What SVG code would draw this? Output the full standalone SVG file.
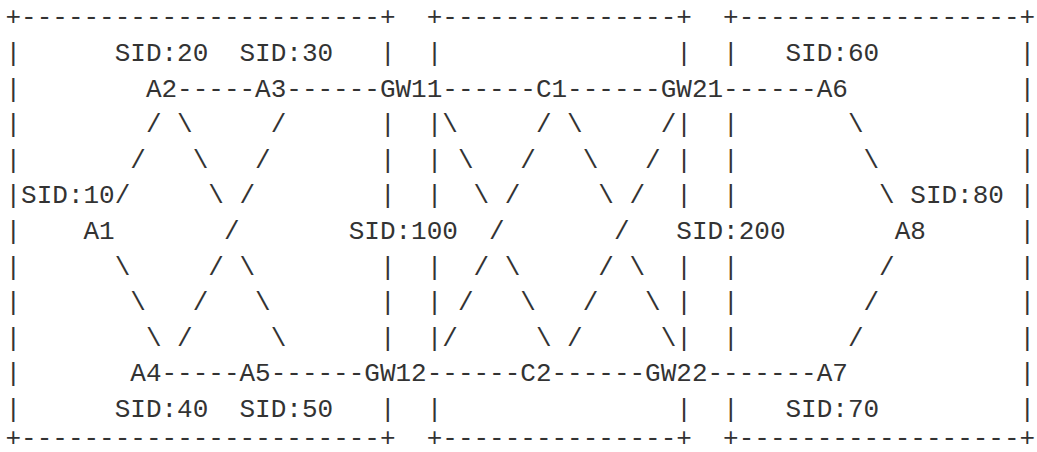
<svg xmlns="http://www.w3.org/2000/svg" width="1037" height="452" viewBox="0 0 1037 452">
<style>
text{font-family:"Liberation Mono","DejaVu Sans Mono",monospace;font-size:26px;fill:#333333;white-space:pre}
</style>
<rect width="1037" height="452" fill="#ffffff"/>
<g id="domains">
<g id="domain-1">
<text x="5.5" y="25.4">+-----------------------+</text>
<text x="5.5" y="446">+-----------------------+</text>
<text x="5.5 5.5 5.5 5.5 5.5 5.5 5.5 5.5 5.5 5.5 5.5" y="61 96.6 132.2 167.8 203.4 239 274.6 310.2 345.8 381.4 417">|||||||||||</text>
<text x="379.9 379.9 379.9 379.9 379.9 379.9 379.9 379.9" y="61 132.2 167.8 203.4 274.6 310.2 345.8 417">||||||||</text>
</g>
<g id="domain-2">
<text x="426.7" y="25.4">+---------------+</text>
<text x="426.7" y="446">+---------------+</text>
<text x="426.7 426.7 426.7 426.7 426.7 426.7 426.7 426.7" y="61 132.2 167.8 203.4 274.6 310.2 345.8 417">||||||||</text>
<text x="676.3 676.3 676.3 676.3 676.3 676.3 676.3 676.3" y="61 132.2 167.8 203.4 274.6 310.2 345.8 417">||||||||</text>
</g>
<g id="domain-3">
<text x="723.1" y="25.4">+------------------+</text>
<text x="723.1" y="446">+------------------+</text>
<text x="723.1 723.1 723.1 723.1 723.1 723.1 723.1 723.1" y="61 132.2 167.8 203.4 274.6 310.2 345.8 417">||||||||</text>
<text x="1019.5 1019.5 1019.5 1019.5 1019.5 1019.5 1019.5 1019.5 1019.5 1019.5 1019.5" y="61 96.6 132.2 167.8 203.4 239 274.6 310.2 345.8 381.4 417">|||||||||||</text>
</g>
</g>
<g id="connectors">
<text x="177.1" y="96.6">-----</text>
<text x="286.3" y="96.6">------</text>
<text x="442.3" y="96.6">------</text>
<text x="567.1" y="96.6">------</text>
<text x="723.1" y="96.6">------</text>
<text x="161.5" y="381.4">-----</text>
<text x="270.7" y="381.4">------</text>
<text x="426.7" y="381.4">------</text>
<text x="551.5" y="381.4">------</text>
<text x="707.5" y="381.4">-------</text>
<text x="145.9 130.3 114.7" y="132.2 167.8 203.4">///</text>
<text x="114.7 130.3 145.9" y="274.6 310.2 345.8">\\\</text>
<text x="177.1 192.7 208.3 239.5 255.1 270.7" y="132.2 167.8 203.4 274.6 310.2 345.8">\\\\\\</text>
<text x="270.7 255.1 239.5 223.9 208.3 192.7 177.1" y="132.2 167.8 203.4 239 274.6 310.2 345.8">///////</text>
<text x="442.3 457.9 473.5 504.7 520.3 535.9" y="132.2 167.8 203.4 274.6 310.2 345.8">\\\\\\</text>
<text x="535.9 520.3 504.7 489.1 473.5 457.9 442.3" y="132.2 167.8 203.4 239 274.6 310.2 345.8">///////</text>
<text x="567.1 582.7 598.3 629.5 645.1 660.7" y="132.2 167.8 203.4 274.6 310.2 345.8">\\\\\\</text>
<text x="660.7 645.1 629.5 613.9 598.3 582.7 567.1" y="132.2 167.8 203.4 239 274.6 310.2 345.8">///////</text>
<text x="847.9 863.5 879.1" y="132.2 167.8 203.4">\\\</text>
<text x="879.1 863.5 847.9" y="274.6 310.2 345.8">///</text>
</g>
<g id="A1"><text x="83.5" y="239">A1</text><text x="21.1" y="203.4">SID:10</text></g>
<g id="A2"><text x="145.9" y="96.6">A2</text><text x="114.7" y="61">SID:20</text></g>
<g id="A3"><text x="255.1" y="96.6">A3</text><text x="239.5" y="61">SID:30</text></g>
<g id="A4"><text x="130.3" y="381.4">A4</text><text x="114.7" y="417">SID:40</text></g>
<g id="A5"><text x="239.5" y="381.4">A5</text><text x="239.5" y="417">SID:50</text></g>
<g id="GW11"><text x="379.9" y="96.6">GW11</text></g>
<g id="GW12"><text x="364.3" y="381.4">GW12</text></g>
<g id="SID100"><text x="348.7" y="239">SID:100</text></g>
<g id="C1"><text x="535.9" y="96.6">C1</text></g>
<g id="C2"><text x="520.3" y="381.4">C2</text></g>
<g id="GW21"><text x="660.7" y="96.6">GW21</text></g>
<g id="GW22"><text x="645.1" y="381.4">GW22</text></g>
<g id="SID200"><text x="676.3" y="239">SID:200</text></g>
<g id="A6"><text x="816.7" y="96.6">A6</text><text x="785.5" y="61">SID:60</text></g>
<g id="A7"><text x="816.7" y="381.4">A7</text><text x="785.5" y="417">SID:70</text></g>
<g id="A8"><text x="894.7" y="239">A8</text><text x="910.3" y="203.4">SID:80</text></g>
</svg>
